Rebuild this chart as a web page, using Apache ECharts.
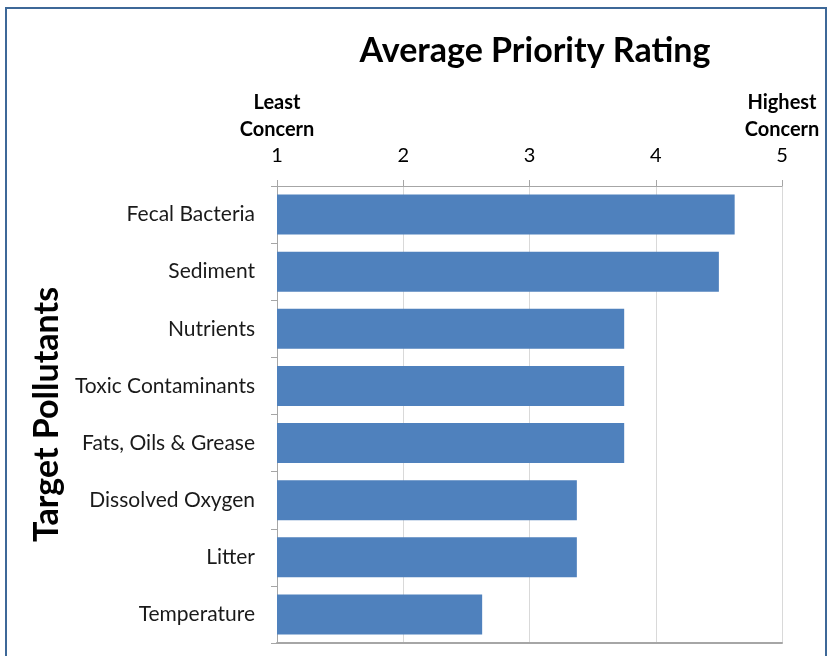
<!DOCTYPE html>
<html>
<head>
<meta charset="utf-8">
<script src="https://cdn.jsdelivr.net/npm/echarts@6/dist/echarts.min.js"></script>
<style>
  html, body { margin: 0; padding: 0; background: #ffffff; overflow: hidden; }
  #frame { position: absolute; left: 5px; top: 7px; width: 822px; height: 720px; border: 2px solid #3d6898; box-sizing: border-box; }
  #chart { position: absolute; left: 0; top: 0; width: 835px; height: 656px; }
</style>
</head>
<body>
<div id="frame"></div>
<div id="chart"></div>
<script>
const chartTitle = 'Average Priority Rating';
const axisTitle = 'Target Pollutants';
const categories = ['Fecal Bacteria', 'Sediment', 'Nutrients', 'Toxic Contaminants', 'Fats, Oils & Grease', 'Dissolved Oxygen', 'Litter', 'Temperature'];
const ratings = [4.625, 4.5, 3.75, 3.75, 3.75, 3.375, 3.375, 2.625];
const tickLabels = { 1: ['Least', 'Concern'], 5: ['Highest', 'Concern'] };

const FONT = 'Lato';
const chart = echarts.init(document.getElementById('chart'), null, { renderer: 'canvas' });
chart.setOption({
  animation: false,
  textStyle: { fontFamily: FONT },
  title: {
    text: chartTitle,
    left: 530, top: 29, textAlign: 'center',
    textStyle: { fontFamily: FONT, fontWeight: 'bold', fontSize: 34, color: '#000000' }
  },
  grid: { left: 277, right: 53, top: 186, bottom: 13, containLabel: false },
  xAxis: [{
    type: 'value', position: 'top', min: 1, max: 5, interval: 1,
    axisLine: { show: true, lineStyle: { color: '#a6a6a6', width: 1 } },
    axisTick: { show: true, length: 6, lineStyle: { color: '#a6a6a6' } },
    splitLine: { show: true, lineStyle: { color: '#d9d9d9', width: 1 } },
    axisLabel: {
      margin: 17,
      formatter: function (v) {
        const extra = tickLabels[v];
        if (extra) return '{h|' + extra[0] + '}\n{h|' + extra[1] + '}\n{n|' + v + '}';
        return '{n|' + v + '}';
      },
      rich: {
        h: { fontFamily: FONT, fontWeight: 'bold', fontSize: 20, lineHeight: 27, color: '#000000' },
        n: { fontFamily: FONT, fontSize: 20, lineHeight: 26, color: '#000000' }
      }
    }
  }, {
    type: 'value', position: 'bottom', min: 1, max: 5, interval: 1,
    axisLine: { show: true, onZero: false, lineStyle: { color: '#a6a6a6', width: 2 } },
    axisTick: { show: false }, axisLabel: { show: false }, splitLine: { show: false }
  }],
  yAxis: {
    type: 'category', data: categories, inverse: true,
    name: axisTitle, nameLocation: 'middle', nameGap: 213, nameRotate: 90,
    nameTextStyle: { fontFamily: FONT, fontWeight: 'bold', fontSize: 34, color: '#000000' },
    axisLine: { show: true, lineStyle: { color: '#a6a6a6' } },
    axisTick: { show: true, length: 6, lineStyle: { color: '#a6a6a6' } },
    axisLabel: { margin: 22, fontFamily: FONT, fontSize: 21, color: '#1a1a1a' }
  },
  series: [{
    type: 'bar', data: ratings, xAxisIndex: 0,
    barCategoryGap: '30%',
    itemStyle: { color: '#4f81bd' }
  }]
});
</script>
</body>
</html>
